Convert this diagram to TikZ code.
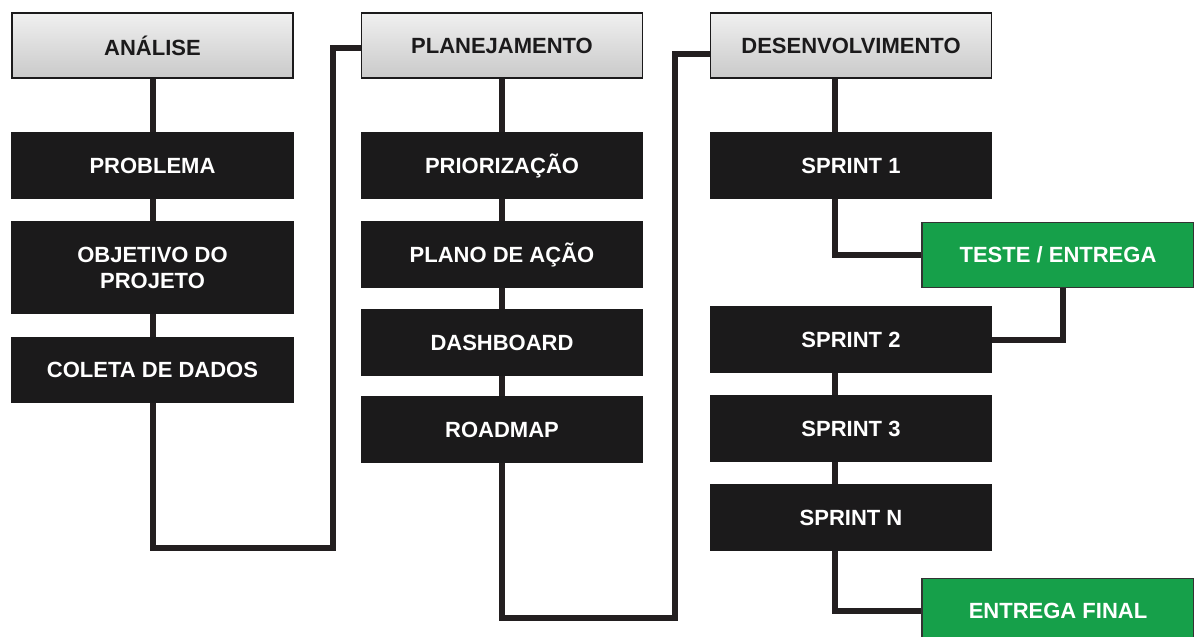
\documentclass[tikz,border=0pt]{standalone}
\usepackage{fontspec}
\setmainfont{Liberation Sans}
\usepackage{xcolor}
\usepackage{tikz}
\usetikzlibrary{positioning,backgrounds}
\definecolor{boxblack}{HTML}{1B1A1B}
\definecolor{boxgreen}{HTML}{16A04A}
\definecolor{linkcol}{HTML}{231F20}
\tikzset{
  % --- boxes ------------------------------------------------------------------
  stage/.style={rectangle,draw=boxblack,line width=0.8pt,top color=gray!12,
                bottom color=gray!42,minimum width=140.5pt,minimum height=32.5pt,
                inner sep=0pt,font=\fontsize{11}{12.5}\selectfont\bfseries,
                text=boxblack,align=center},
  task/.style={rectangle,draw=boxblack,fill=boxblack,line width=0.6pt,
               minimum width=140.5pt,minimum height=32.5pt,inner sep=0pt,
               font=\fontsize{11}{13}\selectfont\bfseries,text=white,
               align=center},
  deliver/.style={task,fill=boxgreen,draw=black!80,minimum width=136pt},
  % --- connectors -------------------------------------------------------------
  link/.style={linkcol,line width=3pt},
}
\begin{document}
\begin{tikzpicture}[x=0.5pt, y=-0.5pt]
  \useasboundingbox (0,0) rectangle (1194,637);

  % analise
  \node[stage] (ana)  at (152.5,45.5)  {ANÁLISE};
  \node[task]  (prob) at (152.5,165.5) {PROBLEMA};
  \node[task,minimum height=45.5pt] (obj) at (152.5,267.5)
        {OBJETIVO DO\\PROJETO};
  \node[task]  (col)  at (152.5,370)   {COLETA DE DADOS};

  % planejamento
  \node[stage] (plan) at (502,45.5)  {PLANEJAMENTO};
  \node[task]  (prio) at (502,165.5) {PRIORIZAÇÃO};
  \node[task]  (acao) at (502,254.5) {PLANO DE AÇÃO};
  \node[task]  (dash) at (502,342.5) {DASHBOARD};
  \node[task]  (road) at (502,429.5) {ROADMAP};

  % desenvolvimento
  \node[stage]   (dev)   at (851,45.5)  {DESENVOLVIMENTO};
  \node[task]    (sp1)   at (851,165.5) {SPRINT 1};
  \node[deliver] (teste) at (1058,255)  {TESTE / ENTREGA};
  \node[task]    (sp2)   at (851,339.5) {SPRINT 2};
  \node[task]    (sp3)   at (851,428.5) {SPRINT 3};
  \node[task]    (spn)   at (851,517.5) {SPRINT N};
  \node[deliver] (final) at (1058,611)  {ENTREGA FINAL};

  % guides for the connector corners
  \coordinate (c1) at (333,548);
  \coordinate (c2) at (675,618);
  \coordinate (dx) at (835,0);

  \begin{scope}[on background layer]
    \draw[link] (ana) -- (prob);
    \draw[link] (prob) -- (obj);
    \draw[link] (obj) -- (col);
    \draw[link] (col.south) |- (c1) |- ([yshift=-1pt]plan.west);

    \draw[link] (plan) -- (prio);
    \draw[link] (prio) -- (acao);
    \draw[link] (acao) -- (dash);
    \draw[link] (dash) -- (road);
    \draw[link] (road.south) |- (c2) |- ([yshift=-4pt]dev.west);

    \draw[link] (dev.south -| dx) -- (sp1.north -| dx);
    \draw[link] (sp1.south -| dx) |- (teste.west);
    \draw[link] ([xshift=2.5pt]teste.south) |- (sp2.east);
    \draw[link] (sp2.south -| dx) -- (sp3.north -| dx);
    \draw[link] (sp3.south -| dx) -- (spn.north -| dx);
    \draw[link] (spn.south -| dx) |- (final.west);
  \end{scope}
\end{tikzpicture}
\end{document}
